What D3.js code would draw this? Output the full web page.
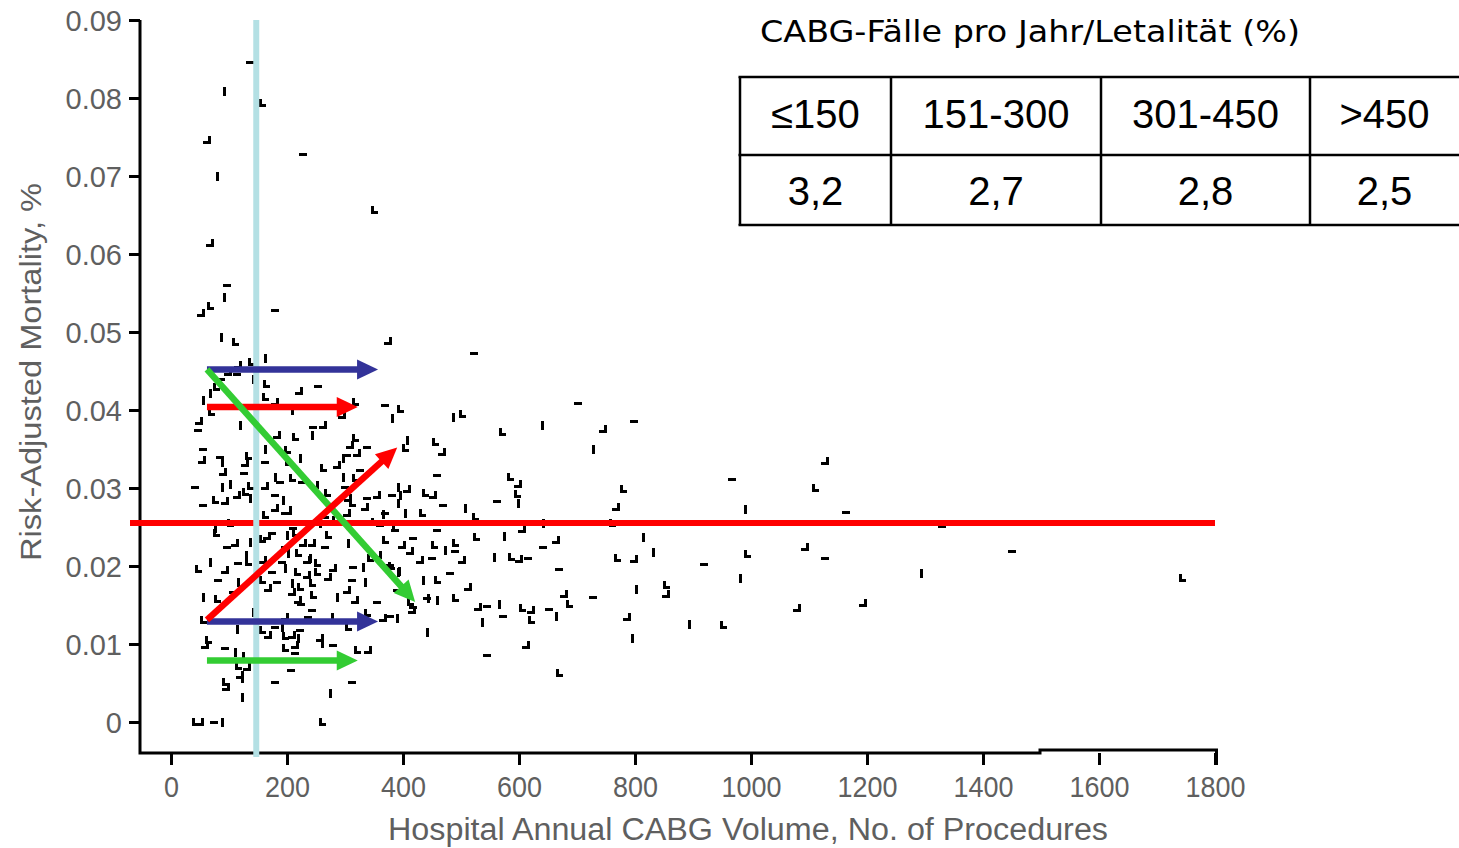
<!DOCTYPE html>
<html>
<head>
<meta charset="utf-8">
<script src="https://cdn.jsdelivr.net/npm/d3@7"></script>
<style>
  body { margin: 0; background: #fff; }
  svg { display: block; }
</style>
</head>
<body>
<svg id="chart" width="1459" height="848"></svg>
<script>
// hospital annual CABG volume / risk-adjusted mortality
const hospitals = [
  [136,0.0846],[91,0.0809],[157,0.0794],[62,0.0746],[228,0.0728],[79,0.0700],[350,0.0656],[67,0.0614],
  [97,0.0560],[91,0.0545],[67,0.0533],[52,0.0524],[179,0.0528],[86,0.0494],[110,0.0487],[374,0.0488],
  [522,0.0473],[162,0.0467],[138,0.0462],[116,0.0458],[114,0.0446],[141,0.0440],[164,0.0433],[221,0.0424],
  [253,0.0431],[67,0.0422],[78,0.0429],[98,0.0449],[86,0.0440],[55,0.0413],[162,0.0417],[179,0.0410],
  [207,0.0406],[209,0.0400],[69,0.0397],[48,0.0386],[47,0.0374],[119,0.0381],[214,0.0365],[183,0.0368],
  [55,0.0350],[162,0.0350],[200,0.0349],[53,0.0336],[84,0.0340],[88,0.0333],[133,0.0341],[128,0.0332],
  [162,0.0333],[222,0.0338],[202,0.0333],[90,0.0321],[126,0.0319],[179,0.0314],[209,0.0313],[226,0.0310],
  [41,0.0301],[102,0.0305],[136,0.0303],[162,0.0303],[188,0.0308],[88,0.0301],[128,0.0295],[114,0.0291],
  [179,0.0291],[193,0.0285],[76,0.0285],[93,0.0283],[55,0.0278],[136,0.0287],[162,0.0265],[179,0.0274],
  [197,0.0268],[205,0.0272],[102,0.0255],[145,0.0256],[210,0.0249],[76,0.0249],
  [317,0.0410],[295,0.0394],[369,0.0406],[381,0.0390],[395,0.0401],[262,0.0381],[245,0.0378],[243,0.0368],
  [317,0.0364],[309,0.0355],[338,0.0353],[407,0.0362],[403,0.0351],[321,0.0345],[303,0.0342],[297,0.0338],
  [262,0.0326],[286,0.0329],[326,0.0323],[297,0.0314],[317,0.0313],[248,0.0304],[300,0.0301],[391,0.0301],
  [438,0.0294],[355,0.0291],[381,0.0291],[395,0.0291],[269,0.0294],[305,0.0287],[338,0.0287],[391,0.0281],
  [312,0.0281],[334,0.0276],[369,0.0268],[403,0.0268],[433,0.0268],[303,0.0268],[266,0.0263],[257,0.0255],
  [283,0.0259],[343,0.0256],[360,0.0253],[383,0.0253],
  [455,0.0359],[467,0.0346],[459,0.0317],[486,0.0391],[502,0.0395],[452,0.0291],[459,0.0246],[507,0.0274],
  [524,0.0263],[429,0.0208],[450,0.0210],[472,0.0221],[490,0.0229],[502,0.0208],[481,0.0191],[434,0.0182],
  [459,0.0182],[512,0.0173],[441,0.0159],[459,0.0156],[490,0.0159],[529,0.0147],[417,0.0147],[441,0.0115],
  [78,0.0242],[110,0.0229],[97,0.0224],[136,0.0231],[157,0.0235],[166,0.0238],[174,0.0242],[200,0.0240],
  [214,0.0242],[228,0.0229],[197,0.0224],[67,0.0205],[47,0.0196],[93,0.0195],[116,0.0204],[129,0.0214],
  [133,0.0205],[159,0.0208],[191,0.0205],[202,0.0217],[219,0.0217],[234,0.0208],[174,0.0192],[197,0.0197],
  [217,0.0192],[234,0.0188],[81,0.0182],[116,0.0179],[157,0.0182],[167,0.0172],[183,0.0179],[209,0.0178],
  [222,0.0173],[209,0.0167],[107,0.0167],[55,0.0160],[79,0.0158],[219,0.0156],[224,0.0151],[141,0.0141],
  [55,0.0131],[197,0.0135],[236,0.0135],[114,0.0119],[157,0.0118],[167,0.0112],[179,0.0122],[191,0.0122],
  [197,0.0110],[209,0.0112],[222,0.0118],[219,0.0108],[64,0.0105],[59,0.0099],[93,0.0095],[110,0.0090],
  [197,0.0095],[214,0.0099],[214,0.0088],[124,0.0085],[116,0.0072],[131,0.0071],[207,0.0067],[122,0.0056],
  [93,0.0051],[95,0.0045],[179,0.0051],[122,0.0032],[41,0],[50,0],[74,0],[88,0],
  [271,0.0240],[243,0.0229],[266,0.0224],[305,0.0229],[369,0.0233],[398,0.0227],[417,0.0236],[240,0.0210],
  [252,0.0204],[279,0.0197],[314,0.0199],[331,0.0199],[343,0.0210],[357,0.0214],[378,0.0201],[391,0.0192],
  [252,0.0192],[271,0.0186],[312,0.0182],[334,0.0179],[243,0.0178],[303,0.0169],[390,0.0169],[286,0.0160],
  [245,0.0163],[317,0.0156],[355,0.0154],[443,0.0159],[412,0.0154],[415,0.0144],[243,0.0144],[278,0.0135],
  [338,0.0140],[365,0.0133],[378,0.0136],[390,0.0133],[305,0.0122],[257,0.0108],[279,0.0099],[260,0.0101],
  [321,0.0092],[340,0.0092],[312,0.0051],[274,0.0037],[260,0],[119,0.0060],
  [702,0.0409],[640,0.0381],[571,0.0372],[745,0.0376],[798,0.0386],[728,0.0350],[584,0.0314],[598,0.0305],
  [562,0.0283],[598,0.0281],[597,0.0292],[407,0.0299],[469,0.0278],[365,0.0267],[779,0.0299],[767,0.0276],
  [967,0.0312],[990,0.0273],[1110,0.0300],[1128,0.0335],[1164,0.0269],[641,0.0255],[760,0.0255],[605,0.0247],
  [386,0.0246],[574,0.0238],[526,0.0237],[664,0.0233],[641,0.0224],[814,0.0237],[453,0.0227],[412,0.0219],
  [490,0.0219],[557,0.0212],[586,0.0212],[600,0.0209],[615,0.0210],[831,0.0218],[769,0.0210],[798,0.0209],
  [669,0.0196],[393,0.0194],[379,0.0200],[678,0.0164],[728,0.0160],[802,0.0171],[853,0.0176],[853,0.0164],
  [545,0.0149],[565,0.0151],[605,0.0146],[621,0.0144],[652,0.0145],[664,0.0136],[686,0.0151],[786,0.0135],
  [919,0.0203],[981,0.0185],[993,0.0215],[1093,0.0224],[1128,0.0210],[893,0.0126],[952,0.0124],[1079,0.0146],
  [572,0.0136],[536,0.0128],[621,0.0131],[612,0.0099],[545,0.0086],[795,0.0108],[669,0.0063],
  [1329,0.0254],[1450,0.0219],[1293,0.0191],[1743,0.0185],[1193,0.0153]
];

const volumeTicks = [0, 200, 400, 600, 800, 1000, 1200, 1400, 1600, 1800];
const mortalityTicks = [0, 0.01, 0.02, 0.03, 0.04, 0.05, 0.06, 0.07, 0.08, 0.09];

// inset table
const tableTitle = "CABG-Fälle pro Jahr/Letalität (%)";
const volumeClasses = ["≤150", "151-300", "301-450", ">450"];
const letality = [3.2, 2.7, 2.8, 2.5];

// annotations drawn over the scatter
const thresholdVolume = 147;
const meanMortality = 0.0255;
const trendArrows = [
  { key: "blue",  from: [62, 0.0452], to: [357, 0.0452] },
  { key: "red",   from: [62, 0.0404], to: [322, 0.0404] },
  { key: "blue",  from: [62, 0.0129], to: [357, 0.0129] },
  { key: "green", from: [62, 0.0079], to: [322, 0.0079] },
  { key: "green", from: [62, 0.0452], to: [421, 0.0154] },
  { key: "red",   from: [62, 0.0131], to: [390, 0.0352] }
];
const arrowColors = { blue: "#333399", red: "#ff0000", green: "#33cc33" };

const svg = d3.select("#chart");
const font = "'Liberation Sans', Arial, sans-serif";
const axisGrey = "#5f5f5f";

const x = d3.scaleLinear().domain([0, 1800]).range([171, 1215]);
const y = d3.scaleLinear().domain([0, 0.09]).range([722, 20]);

const axisLeftX = 140;
const axisBottomY = 753;

// y axis
const yAxis = svg.append("g")
    .attr("transform", `translate(${axisLeftX},0)`)
    .call(d3.axisLeft(y).tickValues(mortalityTicks).tickSize(11).tickPadding(7)
        .tickFormat(d => d === 0 ? "0" : d3.format(".2f")(d)));
yAxis.select(".domain").remove();
yAxis.selectAll(".tick line").attr("stroke", "#000").attr("stroke-width", 3);
yAxis.selectAll(".tick text")
    .attr("font-family", font).attr("font-size", 29).attr("fill", axisGrey)
    .attr("dy", "0.36em");

// x axis
const xAxis = svg.append("g")
    .attr("transform", `translate(0,${axisBottomY})`)
    .call(d3.axisBottom(x).tickValues(volumeTicks).tickSize(12).tickPadding(11)
        .tickFormat(d3.format("d")));
xAxis.select(".domain").remove();
xAxis.selectAll(".tick line").attr("stroke", "#000").attr("stroke-width", 3);
xAxis.selectAll(".tick text")
    .attr("font-family", font).attr("font-size", 30).attr("fill", axisGrey)
    .attr("textLength", d => String(d).length * 15)
    .attr("lengthAdjust", "spacingAndGlyphs");

// axis lines (the scan has a small step in the bottom line)
svg.append("path")
    .attr("d", `M${axisLeftX},${y(0.09)}V${axisBottomY}H1040V${axisBottomY - 3}H${x(1800) + 1.5}V${axisBottomY + 12}`)
    .attr("fill", "none").attr("stroke", "#000").attr("stroke-width", 3);

// axis titles
svg.append("text")
    .attr("x", 748).attr("y", 840)
    .attr("text-anchor", "middle")
    .attr("font-family", font).attr("font-size", 31).attr("fill", axisGrey)
    .attr("textLength", 720).attr("lengthAdjust", "spacingAndGlyphs")
    .text("Hospital Annual CABG Volume, No. of Procedures");

svg.append("text")
    .attr("transform", "translate(41,372) rotate(-90)")
    .attr("text-anchor", "middle")
    .attr("font-family", font).attr("font-size", 30).attr("fill", axisGrey)
    .attr("textLength", 378).attr("lengthAdjust", "spacingAndGlyphs")
    .text("Risk-Adjusted Mortality, %");

// scatter marks: tiny blocky glyphs like the scan
const markShapes = [
  "M-4,-1h8v3h-8z",
  "M-1,-4h3v9h-3z",
  "M-3,-4h3v5h4v3h-7z",
  "M1,-4h3v8h-8v-3h5z"
];
svg.append("g")
    .attr("shape-rendering", "crispEdges")
    .selectAll("path")
    .data(hospitals)
    .enter()
    .append("path")
    .attr("transform", d => `translate(${Math.round(x(d[0]))},${Math.round(y(d[1]))})`)
    .attr("d", (d, i) => markShapes[i % markShapes.length])
    .attr("fill", "#000");

// mean mortality line
svg.append("line")
    .attr("x1", 130).attr("x2", x(1800))
    .attr("y1", y(meanMortality)).attr("y2", y(meanMortality))
    .attr("stroke", "#ff0000").attr("stroke-width", 6);

// 150 cases threshold
svg.append("line")
    .attr("x1", x(thresholdVolume)).attr("x2", x(thresholdVolume))
    .attr("y1", y(0.09)).attr("y2", axisBottomY + 4)
    .attr("stroke", "#b4e0e4").attr("stroke-width", 6);

// trend arrows
const arrowLayer = svg.append("g");
trendArrows.forEach(a => {
  const x1 = x(a.from[0]), y1 = y(a.from[1]);
  const x2 = x(a.to[0]), y2 = y(a.to[1]);
  const ang = Math.atan2(y2 - y1, x2 - x1);
  const headL = 21, headW = 10;
  const bx = x2 - headL * Math.cos(ang), by = y2 - headL * Math.sin(ang);
  const color = arrowColors[a.key];
  arrowLayer.append("line")
      .attr("x1", x1).attr("y1", y1)
      .attr("x2", bx + Math.cos(ang)).attr("y2", by + Math.sin(ang))
      .attr("stroke", color).attr("stroke-width", 6.5);
  arrowLayer.append("path")
      .attr("d", `M${x2},${y2}L${bx - headW * Math.sin(ang)},${by + headW * Math.cos(ang)}L${bx + headW * Math.sin(ang)},${by - headW * Math.cos(ang)}Z`)
      .attr("fill", color);
});

// inset table
const table = svg.append("g");
table.append("text")
    .attr("x", 760).attr("y", 42)
    .attr("font-family", "'DejaVu Sans', Verdana, sans-serif")
    .attr("font-size", 31).attr("fill", "#000")
    .attr("textLength", 540).attr("lengthAdjust", "spacingAndGlyphs")
    .text(tableTitle);

const colEdges = [740, 891, 1101, 1310, 1470];
const rowEdges = [77, 155, 225];
rowEdges.forEach(ry => {
  table.append("line").attr("x1", colEdges[0] - 1.5).attr("x2", 1470)
      .attr("y1", ry).attr("y2", ry)
      .attr("stroke", "#000").attr("stroke-width", 2.5);
});
colEdges.slice(0, 4).forEach(cx => {
  table.append("line").attr("x1", cx).attr("x2", cx)
      .attr("y1", rowEdges[0]).attr("y2", rowEdges[2])
      .attr("stroke", "#000").attr("stroke-width", 2.5);
});

const cellCenter = i => (colEdges[i] + Math.min(colEdges[i + 1], 1459)) / 2;
const fmtComma = d => d3.format(".1f")(d).replace(".", ",");
table.selectAll("text.cls")
    .data(volumeClasses)
    .enter()
    .append("text")
    .attr("class", "cls")
    .attr("x", (d, i) => cellCenter(i)).attr("y", 128)
    .attr("text-anchor", "middle")
    .attr("font-family", font).attr("font-size", 40).attr("fill", "#000")
    .text(d => d);
table.selectAll("text.val")
    .data(letality)
    .enter()
    .append("text")
    .attr("class", "val")
    .attr("x", (d, i) => cellCenter(i)).attr("y", 205)
    .attr("text-anchor", "middle")
    .attr("font-family", font).attr("font-size", 40).attr("fill", "#000")
    .text(d => fmtComma(d));
</script>
</body>
</html>
